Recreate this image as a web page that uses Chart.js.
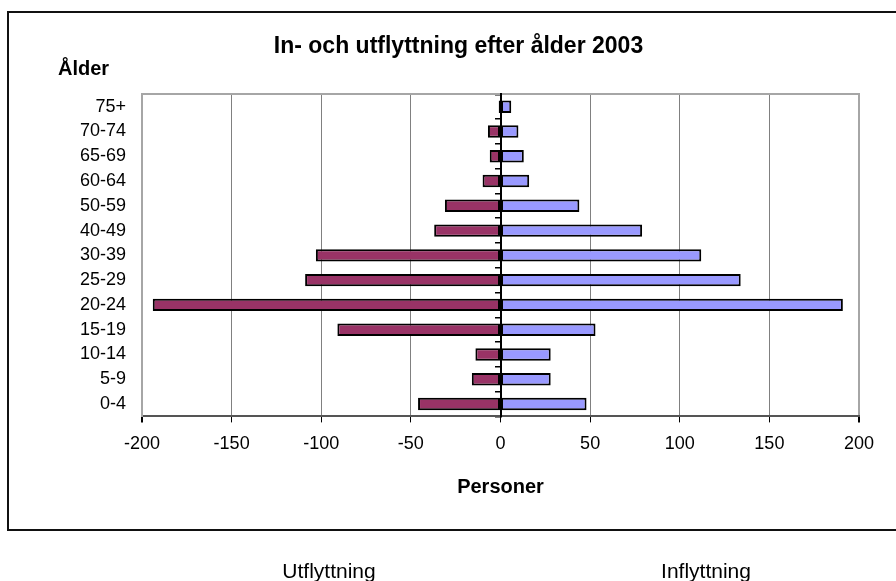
<!DOCTYPE html>
<html lang="sv">
<head>
<meta charset="utf-8">
<title>In- och utflyttning efter ålder 2003</title>
<script src="https://cdn.jsdelivr.net/npm/chart.js@4.4.1/dist/chart.umd.min.js"></script>
<style>
    html, body { margin: 0; padding: 0; background: #fff; }
    body { width: 896px; height: 581px; position: relative; overflow: hidden; font-family: "Liberation Sans", Arial, sans-serif; }
    #wrap { position: absolute; left: 0; top: 0; width: 896px; height: 581px; }
    #frame { position: absolute; left: 7px; top: 11px; width: 906px; height: 516px; border: 2px solid #111; pointer-events: none; }
    .legend-item { position: absolute; top: 560px; font-size: 21px; line-height: 21px; color: #000; transform: translateX(-50%); white-space: nowrap; }
</style>
</head>
<body>
<div id="wrap"><canvas id="chart"></canvas></div>
<div id="frame"></div>
<div id="legend"></div>
<script>
// Age groups, bottom to top
const ageGroups = ['0-4', '5-9', '10-14', '15-19', '20-24', '25-29', '30-39', '40-49', '50-59', '60-64', '65-69', '70-74', '75+'];

// Moves per age group (out-moves negative)
const outMoves = [-46, -16, -14, -91, -194, -109, -103, -37, -31, -10, -6, -7, -1];
const inMoves = [48, 28, 28, 53, 191, 134, 112, 79, 44, 16, 13, 10, 6];

const seriesNames = ['Utflyttning', 'Inflyttning'];
const seriesColors = ['#993366', '#9999ff'];
const xTicks = [-200, -150, -100, -50, 0, 50, 100, 150, 200];

const chartTitle = 'In- och utflyttning efter ålder 2003';
const yTitle = 'Ålder';
const xTitle = 'Personer';

Chart.defaults.font.family = "'Liberation Sans', Arial, sans-serif";
Chart.defaults.color = '#000';

const edge = v => Math.abs(v) === xTicks[xTicks.length - 1];

const chart = new Chart(document.getElementById('chart'), {
    type: 'bar',
    data: {
        labels: ageGroups,
        datasets: [outMoves, inMoves].map((values, i) => ({
            label: seriesNames[i],
            data: values,
            backgroundColor: seriesColors[i],
            borderColor: '#000',
            borderWidth: 2,
            borderSkipped: false,
            barPercentage: 0.5,
            categoryPercentage: 1,
            xAxisID: 'x',
            yAxisID: 'y'
        }))
    },
    options: {
        indexAxis: 'y',
        responsive: true,
        maintainAspectRatio: false,
        animation: false,
        layout: { padding: { left: 58, right: 37, top: 27, bottom: 82 } },
        plugins: {
            legend: { display: false },
            tooltip: { enabled: false },
            title: {
                display: true,
                text: chartTitle,
                color: '#000',
                font: { size: 23, weight: 'bold', lineHeight: 1.1 },
                padding: { top: 7, bottom: 0 }
            },
            subtitle: {
                display: true,
                text: yTitle,
                align: 'start',
                color: '#000',
                font: { size: 20, weight: 'bold', lineHeight: 1 },
                padding: { top: 0, bottom: 15 }
            }
        },
        scales: {
            x: {
                type: 'linear',
                position: 'bottom',
                stacked: true,
                min: xTicks[0],
                max: xTicks[xTicks.length - 1],
                ticks: { stepSize: xTicks[1] - xTicks[0], font: { size: 18 }, color: '#000', padding: 11 },
                grid: {
                    color: ctx => (ctx.tick && edge(ctx.tick.value)) ? '#a6a6a6' : '#808080',
                    lineWidth: ctx => (ctx.tick && edge(ctx.tick.value)) ? 2 : 1,
                    tickColor: '#000',
                    tickLength: 6
                },
                border: { display: true, color: '#555', width: 2 },
                title: {
                    display: true,
                    text: xTitle,
                    color: '#000',
                    font: { size: 20, weight: 'bold' },
                    padding: { top: 9, bottom: 0 }
                }
            },
            // top edge of the plot area
            xTop: {
                type: 'linear',
                axis: 'x',
                position: 'top',
                ticks: { display: false },
                grid: { drawOnChartArea: false, drawTicks: false },
                border: { display: true, color: '#a6a6a6', width: 2 }
            },
            y: {
                type: 'category',
                position: 'left',
                stacked: true,
                reverse: true,
                afterFit: scale => { scale.width = 84; },
                ticks: { autoSkip: false, font: { size: 18 }, color: '#000', padding: 16 },
                grid: { display: false, drawTicks: false },
                border: { display: true, color: '#a6a6a6', width: 2 }
            },
            // category axis crossing at zero, with its tick marks
            yZero: {
                type: 'category',
                axis: 'y',
                position: { x: 0 },
                reverse: true,
                ticks: { display: false, autoSkip: false },
                grid: { drawOnChartArea: false, drawTicks: true, tickLength: 5, color: '#000', lineWidth: 1.5 },
                border: { display: true, color: '#000', width: 2 }
            }
        }
    }
});

// Plain text legend under the frame
const legendX = [329, 706];
const legendEl = document.getElementById('legend');
chart.data.datasets.forEach((ds, i) => {
    const item = document.createElement('span');
    item.className = 'legend-item';
    item.textContent = ds.label;
    item.style.left = legendX[i] + 'px';
    legendEl.appendChild(item);
});
</script>
</body>
</html>
